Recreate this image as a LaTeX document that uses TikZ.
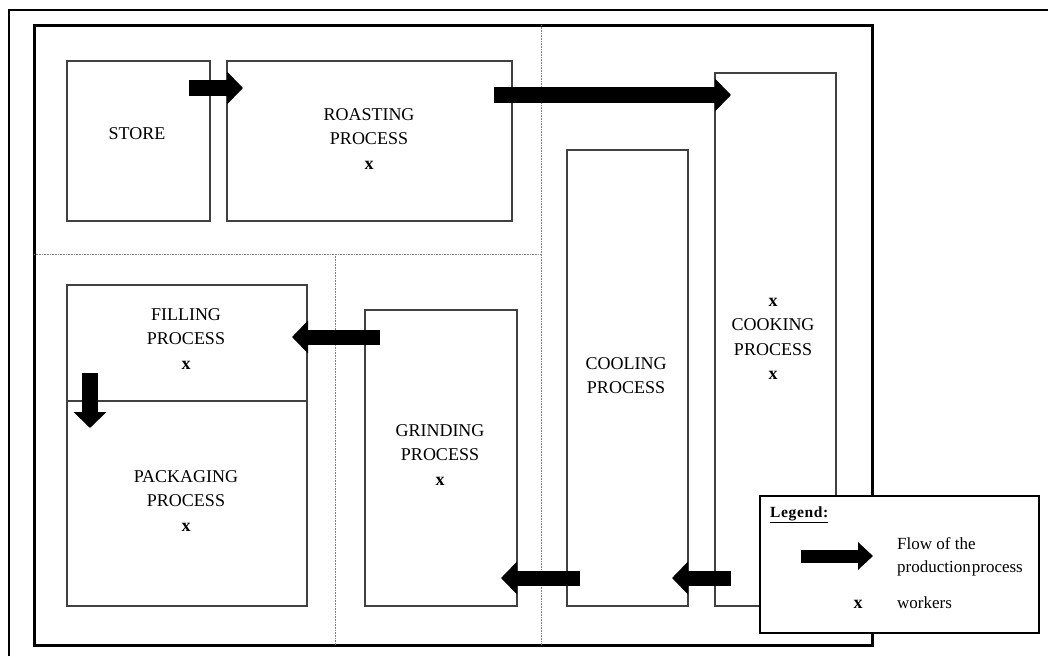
\documentclass[tikz,border=0pt]{standalone}
\usepackage{fontspec}
\setmainfont{Liberation Serif}
\usetikzlibrary{arrows.meta}
\begin{document}
\begin{tikzpicture}[x=1pt,y=-1pt,
  box/.style={draw=black!75, line width=1.4pt, inner sep=0pt, outer sep=0pt, anchor=north west},
  lbl/.style={font=\fontsize{18}{24.5}\selectfont, align=center, inner sep=0pt, anchor=north},
  divider/.style={draw=black!50, line width=1pt, dash pattern=on 1pt off 0.6pt},
  flow/.style={line width=16pt, -{Triangle[length=16pt,width=32pt]}},
  smallflow/.style={line width=13pt, -{Triangle[length=15pt,width=27pt]}},
  legtext/.style={font=\fontsize{17}{23}\selectfont, inner sep=0pt, anchor=base west, align=left}]
\useasboundingbox (0,0) rectangle (1048,656);
% outer frames
\draw[line width=2pt] (9,656) -- (9,10) -- (1048,10);
\draw[line width=3pt] (34,25) rectangle (872,645);
% dotted dividers
\draw[divider] (541,25) -- (541,645);
\draw[divider] (34,254) -- (541,254);
\draw[divider] (335,254) -- (335,645);
% boxes
\node[box, minimum width=143, minimum height=160] (store) at (67,61) {};
\node[box, minimum width=285, minimum height=160] (roast) at (227,61) {};
\node[box, minimum width=121, minimum height=533] (cook) at (715,73) {};
\node[box, minimum width=121, minimum height=456] (cool) at (567,150) {};
\node[box, minimum width=152, minimum height=296] (grind) at (365,310) {};
\node[box, minimum width=240, minimum height=116] (fill) at (67,285) {};
\node[box, minimum width=240, minimum height=205] (pack) at (67,401) {};
% labels
\node[lbl] (tstore) at (137,127) {STORE};
\node[lbl] (troast) at (369,108) {ROASTING\\PROCESS\\\textbf{x}};
\node[lbl] (tcook) at (773,298) {\textbf{x}\\COOKING\\PROCESS\\\textbf{x}};
\node[lbl] (tcool) at (626,357) {COOLING\\PROCESS};
\node[lbl] (tgrind) at (440,424) {GRINDING\\PROCESS\\\textbf{x}};
\node[lbl] (tfill) at (186,308) {FILLING\\PROCESS\\\textbf{x}};
\node[lbl] (tpack) at (186,470) {PACKAGING\\PROCESS\\\textbf{x}};
% flow arrows
\coordinate (a1s) at (189,88);  \coordinate (a1e) at (243,88);
\coordinate (a2s) at (494,95);  \coordinate (a2e) at (731,95);
\coordinate (a3s) at (380,337); \coordinate (a3e) at (292,337);
\coordinate (a4s) at (90,373);  \coordinate (a4e) at (90,428);
\coordinate (a5s) at (580,578); \coordinate (a5e) at (501,578);
\coordinate (a6s) at (731,578); \coordinate (a6e) at (672,578);
\draw[flow] (a1s) -- (a1e);
\draw[flow] (a2s) -- (a2e);
\draw[flow, line width=15pt] (a3s) -- (a3e);
\draw[flow] (a4s) -- (a4e);
\draw[flow, line width=15pt] (a5s) -- (a5e);
\draw[flow, line width=15pt] (a6s) -- (a6e);
% legend
\node[draw=black, fill=white, line width=2pt, inner sep=0pt, anchor=north west,
      minimum width=279, minimum height=137] (legend) at (759,495) {};
\node[legtext, font=\fontsize{15.5}{18}\selectfont\bfseries\addfontfeature{LetterSpace=4}] (tleg) at (770,517) {\underline{Legend:}};
\coordinate (ls) at (801,556); \coordinate (le) at (873,556);
\draw[smallflow] (ls) -- (le);
\node[legtext] (tflow1) at (897,549) {Flow of the};
\node[legtext] (tflow2) at (897,572) {production\hspace{1pt}process};
\node[legtext, font=\fontsize{18}{20}\selectfont\bfseries, anchor=base] (tx) at (858,608) {x};
\node[legtext] (twork) at (897,608) {workers};
\end{tikzpicture}
\end{document}
